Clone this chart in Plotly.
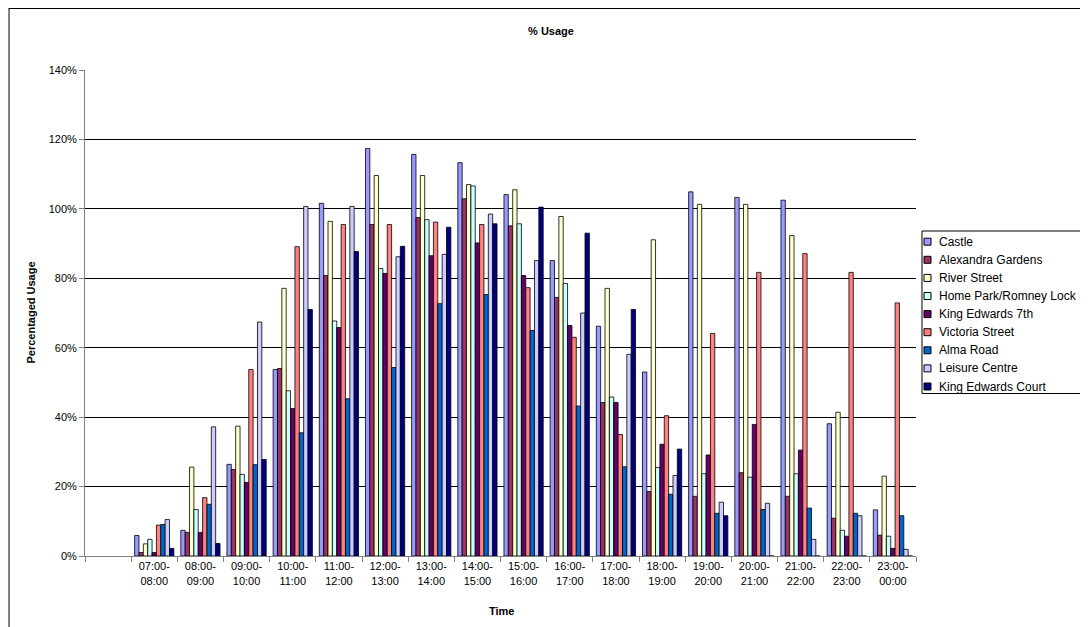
import plotly.graph_objects as go

categories = ["07:00-<br>08:00", "08:00-<br>09:00", "09:00-<br>10:00", "10:00-<br>11:00",
              "11:00-<br>12:00", "12:00-<br>13:00", "13:00-<br>14:00", "14:00-<br>15:00",
              "15:00-<br>16:00", "16:00-<br>17:00", "17:00-<br>18:00", "18:00-<br>19:00",
              "19:00-<br>20:00", "20:00-<br>21:00", "21:00-<br>22:00", "22:00-<br>23:00",
              "23:00-<br>00:00"]

castle = [5.9, 7.4, 26.4, 53.7, 101.6, 117.4, 115.7, 113.3, 104.1, 85.1, 66.2, 53.0, 104.9, 103.3, 102.5, 38.1, 13.3]
alexandra_gardens = [1.0, 6.8, 24.9, 54.0, 80.8, 95.5, 97.5, 102.9, 95.1, 74.5, 44.2, 18.6, 17.2, 24.0, 17.2, 10.9, 6.0]
river_street = [3.5, 25.6, 37.4, 77.1, 96.4, 109.6, 109.6, 107.0, 105.5, 97.8, 77.1, 91.1, 101.3, 101.3, 92.3, 41.4, 23.0]
home_park = [4.8, 13.4, 23.5, 47.6, 67.7, 82.8, 96.9, 106.6, 95.7, 78.5, 45.8, 25.5, 23.7, 22.7, 23.7, 7.4, 5.7]
king_edwards_7th = [1.0, 6.8, 21.2, 42.5, 65.8, 81.4, 86.5, 90.2, 80.8, 66.4, 44.2, 32.2, 29.1, 37.9, 30.5, 5.7, 2.2]
victoria_street = [8.9, 16.8, 53.7, 89.1, 95.5, 95.5, 96.2, 95.5, 77.3, 63.0, 35.0, 40.4, 64.1, 81.7, 87.1, 81.7, 72.9]
alma_road = [9.1, 14.9, 26.3, 35.5, 45.3, 54.3, 72.7, 75.3, 65.0, 43.2, 25.7, 17.8, 12.3, 13.4, 13.8, 12.3, 11.6]
leisure_centre = [10.5, 37.2, 67.4, 100.7, 100.7, 86.2, 86.9, 98.5, 85.1, 70.0, 58.1, 23.2, 15.5, 15.2, 4.8, 11.6, 1.9]
king_edwards_court = [2.2, 3.6, 27.8, 71.0, 87.7, 89.2, 94.7, 95.7, 100.5, 93.0, 71.0, 30.8, 11.6, 0, 0, 0, 0]

series_names = ["Castle", "Alexandra Gardens", "River Street", "Home Park/Romney Lock",
                "King Edwards 7th", "Victoria Street", "Alma Road", "Leisure Centre",
                "King Edwards Court"]
series_values = [castle, alexandra_gardens, river_street, home_park, king_edwards_7th,
                 victoria_street, alma_road, leisure_centre, king_edwards_court]
colors = ["#9999FF", "#993366", "#FFFFCC", "#CCFFFF", "#660066", "#FF8080",
          "#0066CC", "#CCCCFF", "#000080"]

font_name = "Liberation Sans, Arial, sans-serif"

fig = go.Figure()
for name, vals, col in zip(series_names, series_values, colors):
    fig.add_trace(go.Bar(
        x=categories,
        y=[v / 100 for v in vals],
        name=name,
        showlegend=False,
        marker=dict(color=col, line=dict(color="black", width=0.8)),
    ))

# page body adds an 8px offset, so the figure is laid out in shifted coordinates
OFF = 8
W, H = 1088 - OFF, 627 - OFF
L, R, T, B = 84.5 - OFF, 916 - OFF, 70 - OFF, 556 - OFF
pw, ph = R - L, B - T


def px_x(x):
    return (x - OFF - L) / pw


def px_y(y):
    return (B - (y - OFF)) / ph


annotations = [
    dict(text="<b>Percentaged Usage</b>", x=px_x(30), y=0.5, xref="paper", yref="paper",
         textangle=-90, showarrow=False, font=dict(size=11), xanchor="center", yanchor="middle"),
    dict(text="<b>Time</b>", x=px_x(501), y=px_y(611), xref="paper", yref="paper",
         showarrow=False, font=dict(size=11), xanchor="center", yanchor="middle"),
]
shapes = [
    dict(type="line", xref="paper", yref="paper", x0=px_x(8.5), x1=px_x(1100),
         y0=px_y(8.5), y1=px_y(8.5), line=dict(color="black", width=1)),
    dict(type="line", xref="paper", yref="paper", x0=px_x(8.5), x1=px_x(8.5),
         y0=px_y(8), y1=px_y(640), line=dict(color="black", width=1)),
    # legend box
    dict(type="rect", xref="paper", yref="paper", x0=px_x(922), x1=px_x(1085),
         y0=px_y(231), y1=px_y(393.5), line=dict(color="black", width=1),
         fillcolor="white", layer="below"),
]

row0, step = 241.7, 18.1
for i, (name, col) in enumerate(zip(series_names, colors)):
    yc = row0 + i * step
    shapes.append(dict(type="rect", xref="paper", yref="paper",
                       x0=px_x(924), x1=px_x(931), y0=px_y(yc - 3.5), y1=px_y(yc + 3.5),
                       fillcolor=col, line=dict(color="black", width=1)))
    annotations.append(dict(text=name, x=px_x(937), y=px_y(yc), xref="paper", yref="paper",
                            showarrow=False, xanchor="left", yanchor="middle",
                            font=dict(size=12, family=font_name, color="black")))

fig.update_layout(
    width=W, height=H,
    margin=dict(l=L, r=W - R, t=T, b=H - B, autoexpand=False),
    paper_bgcolor="white", plot_bgcolor="white",
    barmode="group", bargap=0.15, bargroupgap=0,
    font=dict(family=font_name, size=11, color="black"),
    title=dict(text="<b>% Usage</b>", x=(551 - OFF) / W, xref="container", xanchor="center",
               y=1 - (31 - OFF) / H, yref="container", yanchor="middle",
               font=dict(size=11, family=font_name, color="black")),
    showlegend=False,
    xaxis=dict(type="category", categoryorder="array",
               categoryarray=[" "] + categories, range=[-0.5, len(categories) + 0.5],
               showline=True, linecolor="#808080", linewidth=1,
               ticks="outside", ticklen=5, tickcolor="#808080", tickson="boundaries",
               showgrid=False, tickfont=dict(size=11), zeroline=False),
    yaxis=dict(range=[0, 1.4], dtick=0.2, tick0=0, tickformat=".0%",
               showline=True, linecolor="#808080", linewidth=1,
               ticks="outside", ticklen=5, tickcolor="#808080",
               showgrid=True, gridcolor="black", gridwidth=1, zeroline=False,
               tickfont=dict(size=11)),
    annotations=annotations,
    shapes=shapes,
)

fig.write_html("out.html")
